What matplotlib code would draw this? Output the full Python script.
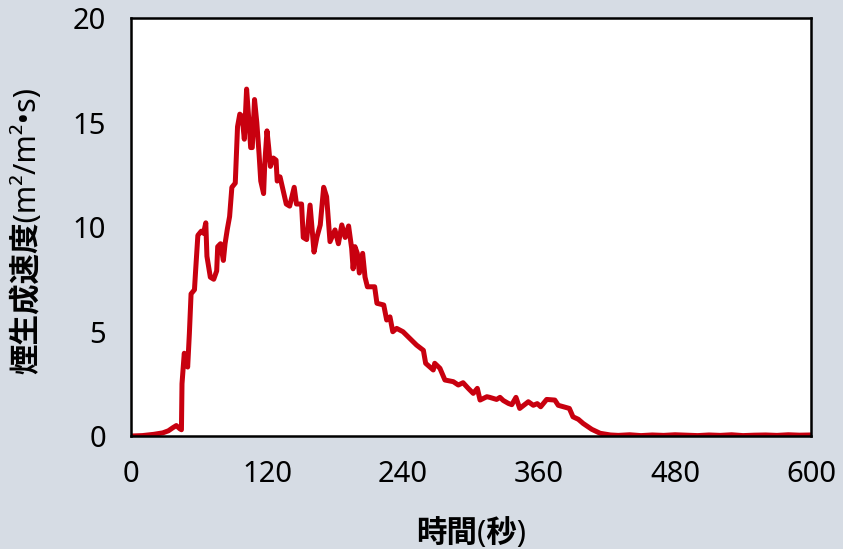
import matplotlib.pyplot as plt

plt.rcParams['font.family'] = ['Noto Sans', 'Noto Sans CJK JP', 'DejaVu Sans']

# time (s) and smoke production rate (m2/m2.s)
time_s = [0, 10, 20, 28, 33, 37, 40, 43, 44.5, 45, 47, 50, 51.5, 53, 56, 57, 59, 62, 64, 66,
          67, 70, 73, 75.6, 76.5, 79, 81.5, 83, 85, 87, 89, 92, 93, 94, 96, 98, 100, 102, 104,
          105.6, 107, 109, 111, 113, 114.5, 117, 118, 120, 121.5, 123, 125.6, 128, 129, 131.5,
          134, 137, 140, 144, 146, 150.5, 152, 155, 158, 161.5, 164, 167, 170, 172.6, 175.6,
          180, 183, 186, 189, 192, 194.7, 196, 197.6, 199.7, 201.5, 204.4, 206.5, 208.6, 215,
          217, 223, 225.6, 228.5, 231, 234.4, 240, 246, 252, 258, 260, 266.7, 268, 272.6, 277,
          284.4, 288.8, 293, 297.6, 302, 305.6, 308, 314, 316.5, 322.6, 325.6, 328.5, 333, 336,
          339.7, 343, 346.5, 350.6, 355, 358.5, 361.5, 366.8, 374, 377, 381.5, 386.8, 390,
          394.7, 399, 406.6, 414, 423, 430, 440, 450, 460, 470, 480, 490, 500, 510, 520, 530,
          540, 550, 560, 570, 580, 590, 600]
smoke_rate = [0.0, 0.02, 0.08, 0.15, 0.25, 0.4, 0.5, 0.35, 0.3, 2.5, 3.96, 3.3, 4.9, 6.8, 7.0,
              7.9, 9.6, 9.8, 9.7, 10.2, 8.6, 7.6, 7.5, 7.9, 9.06, 9.2, 8.4, 9.2, 9.9, 10.5, 11.9,
              12.1, 13.4, 14.8, 15.4, 15.3, 14.2, 16.6, 15.1, 13.8, 13.8, 16.1, 15.0, 13.5, 12.2,
              11.6, 13.0, 14.6, 13.8, 12.9, 13.3, 13.2, 12.2, 12.4, 11.8, 11.1, 11.0, 11.9, 11.1,
              11.1, 9.5, 9.4, 11.05, 8.8, 9.5, 10.1, 11.9, 11.45, 9.3, 9.86, 9.2, 10.1, 9.5,
              10.05, 8.98, 8.0, 9.06, 8.74, 7.8, 8.74, 7.6, 7.14, 7.14, 6.35, 6.27, 5.55, 5.7,
              4.99, 5.15, 4.99, 4.67, 4.35, 4.1, 3.48, 3.16, 3.48, 3.24, 2.68, 2.6, 2.44, 2.55,
              2.28, 2.04, 2.28, 1.72, 1.88, 1.85, 1.75, 1.85, 1.7, 1.56, 1.5, 1.85, 1.32, 1.47,
              1.64, 1.47, 1.55, 1.4, 1.75, 1.72, 1.47, 1.4, 1.32, 0.92, 0.8, 0.6, 0.32, 0.13,
              0.05, 0.03, 0.06, 0.02, 0.05, 0.03, 0.06, 0.04, 0.02, 0.05, 0.03, 0.06, 0.02, 0.04,
              0.05, 0.03, 0.06, 0.04, 0.05]

x_ticks = [0, 120, 240, 360, 480, 600]
y_ticks = [0, 5, 10, 15, 20]

fig = plt.figure(figsize=(8.43, 5.49), dpi=100, facecolor='#d6dce4')
ax = fig.add_axes([0.1554, 0.2058, 0.8066, 0.7614])
ax.set_facecolor('white')

ax.plot(time_s, smoke_rate, color='#c8000f', linewidth=3.6, solid_joinstyle='round')

ax.set_xlim(0, 600)
ax.set_ylim(0, 20)
ax.set_xticks(x_ticks)
ax.set_yticks(y_ticks)
ax.tick_params(length=0, labelsize=21, colors='black')
ax.tick_params(axis='x', pad=17)
ax.tick_params(axis='y', pad=18)

for s in ax.spines.values():
    s.set_linewidth(1.8)
    s.set_color('black')

ax.set_xlabel('時間(秒)', fontsize=22, fontweight='bold', labelpad=21)
ax.set_ylabel('煙生成速度(m²/m²•s)', fontsize=22, fontweight='bold', va='center')
ax.yaxis.set_label_coords(-0.153, 0.492)

fig.savefig('out.png', dpi=100, facecolor=fig.get_facecolor())
